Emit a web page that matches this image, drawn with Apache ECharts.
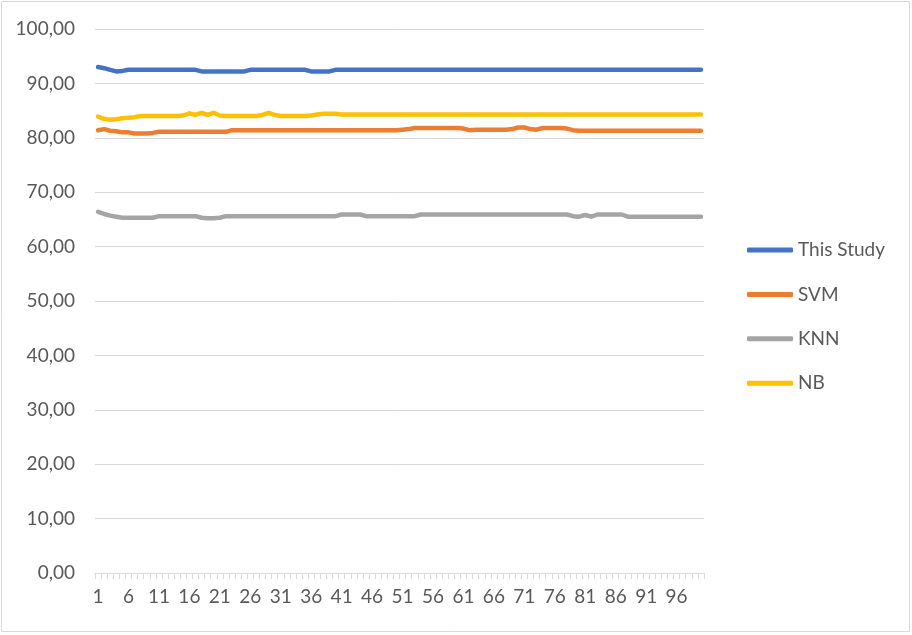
<!DOCTYPE html>
<html>
<head>
<meta charset="utf-8">
<script src="https://cdn.jsdelivr.net/npm/echarts@6/dist/echarts.min.js"></script>
<style>html,body{margin:0;padding:0;background:#fff}#c{width:912px;height:635px}</style>
</head>
<body>
<div id="c"></div>
<script>
var categories = [];
for (var i = 1; i <= 100; i++) categories.push(String(i));

var seriesNames = ['This Study', 'SVM', 'KNN', 'NB'];

var thisStudy = [
93.0,92.8,92.5,92.2,92.3,92.5,92.5,92.5,92.5,92.5,
92.5,92.5,92.5,92.5,92.5,92.5,92.5,92.2,92.2,92.2,
92.2,92.2,92.2,92.2,92.2,92.5,92.5,92.5,92.5,92.5,
92.5,92.5,92.5,92.5,92.5,92.2,92.2,92.2,92.2,92.5,
92.5,92.5,92.5,92.5,92.5,92.5,92.5,92.5,92.5,92.5,
92.5,92.5,92.5,92.5,92.5,92.5,92.5,92.5,92.5,92.5,
92.5,92.5,92.5,92.5,92.5,92.5,92.5,92.5,92.5,92.5,
92.5,92.5,92.5,92.5,92.5,92.5,92.5,92.5,92.5,92.5,
92.5,92.5,92.5,92.5,92.5,92.5,92.5,92.5,92.5,92.5,
92.5,92.5,92.5,92.5,92.5,92.5,92.5,92.5,92.5,92.5
];

var svm = [
81.4,81.6,81.3,81.2,81.0,81.0,80.8,80.8,80.8,80.9,
81.1,81.1,81.1,81.1,81.1,81.1,81.1,81.1,81.1,81.1,
81.1,81.1,81.4,81.4,81.4,81.4,81.4,81.4,81.4,81.4,
81.4,81.4,81.4,81.4,81.4,81.4,81.4,81.4,81.4,81.4,
81.4,81.4,81.4,81.4,81.4,81.4,81.4,81.4,81.4,81.4,
81.5,81.6,81.8,81.8,81.8,81.8,81.8,81.8,81.8,81.8,
81.7,81.4,81.5,81.5,81.5,81.5,81.5,81.5,81.6,81.9,
81.9,81.6,81.5,81.8,81.8,81.8,81.8,81.7,81.4,81.3,
81.3,81.3,81.3,81.3,81.3,81.3,81.3,81.3,81.3,81.3,
81.3,81.3,81.3,81.3,81.3,81.3,81.3,81.3,81.3,81.3
];

var knn = [
66.4,66.0,65.7,65.5,65.3,65.3,65.3,65.3,65.3,65.3,
65.6,65.6,65.6,65.6,65.6,65.6,65.6,65.3,65.2,65.2,
65.3,65.6,65.6,65.6,65.6,65.6,65.6,65.6,65.6,65.6,
65.6,65.6,65.6,65.6,65.6,65.6,65.6,65.6,65.6,65.6,
65.9,65.9,65.9,65.9,65.6,65.6,65.6,65.6,65.6,65.6,
65.6,65.6,65.6,65.9,65.9,65.9,65.9,65.9,65.9,65.9,
65.9,65.9,65.9,65.9,65.9,65.9,65.9,65.9,65.9,65.9,
65.9,65.9,65.9,65.9,65.9,65.9,65.9,65.9,65.6,65.5,
65.8,65.5,65.9,65.9,65.9,65.9,65.9,65.5,65.5,65.5,
65.5,65.5,65.5,65.5,65.5,65.5,65.5,65.5,65.5,65.5
];

var nb = [
83.9,83.5,83.3,83.4,83.6,83.7,83.8,84.0,84.0,84.0,
84.0,84.0,84.0,84.0,84.1,84.5,84.2,84.6,84.2,84.6,
84.1,84.0,84.0,84.0,84.0,84.0,84.0,84.2,84.6,84.2,
84.0,84.0,84.0,84.0,84.0,84.1,84.3,84.4,84.4,84.4,
84.3,84.3,84.3,84.3,84.3,84.3,84.3,84.3,84.3,84.3,
84.3,84.3,84.3,84.3,84.3,84.3,84.3,84.3,84.3,84.3,
84.3,84.3,84.3,84.3,84.3,84.3,84.3,84.3,84.3,84.3,
84.3,84.3,84.3,84.3,84.3,84.3,84.3,84.3,84.3,84.3,
84.3,84.3,84.3,84.3,84.3,84.3,84.3,84.3,84.3,84.3,
84.3,84.3,84.3,84.3,84.3,84.3,84.3,84.3,84.3,84.3
];

var colors = ['#4472C4', '#ED7D31', '#A5A5A5', '#FFC000'];
var dataList = [thisStudy, svm, knn, nb];

var chart = echarts.init(document.getElementById('c'), null, {renderer: 'canvas'});
var FONT = 'Lato';
var series = seriesNames.map(function (n, k) {
  return {
    name: n, type: 'line', data: dataList[k], symbol: 'none', smooth: false,
    lineStyle: {width: 4.5, color: colors[k], cap: 'round', join: 'round'},
    itemStyle: {color: colors[k]}
  };
});

chart.setOption({
  animation: false,
  backgroundColor: '#ffffff',
  graphic: [{
    type: 'rect', shape: {x: 1.5, y: 1.5, width: 908, height: 630},
    style: {fill: 'none', stroke: '#d9d9d9', lineWidth: 1}, silent: true, z: -1
  }],
  grid: {left: 95, right: 208, top: 29, bottom: 62, containLabel: false},
  legend: {
    orient: 'vertical', left: 747, top: 239, padding: 0,
    itemWidth: 46, itemHeight: 5, itemGap: 22.4,
    icon: 'roundRect',
    data: seriesNames,
    textStyle: {fontFamily: FONT, fontSize: 19, color: '#595959', lineHeight: 22}
  },
  xAxis: {
    type: 'category', data: categories, boundaryGap: true,
    axisLine: {lineStyle: {color: '#d9d9d9', width: 1}},
    axisTick: {show: true, interval: 0, length: 6, lineStyle: {color: '#d9d9d9'}},
    axisLabel: {interval: 4, margin: 14, fontFamily: FONT, fontSize: 19, color: '#595959'},
    splitLine: {show: false}
  },
  yAxis: {
    type: 'value', min: 0, max: 100, interval: 10,
    axisLine: {show: false}, axisTick: {show: false},
    axisLabel: {margin: 20, fontFamily: FONT, fontSize: 19, color: '#595959',
      formatter: function (v) { return v.toFixed(2).replace('.', ','); }},
    splitLine: {lineStyle: {color: '#d9d9d9', width: 1}}
  },
  series: series
});
</script>
</body>
</html>
